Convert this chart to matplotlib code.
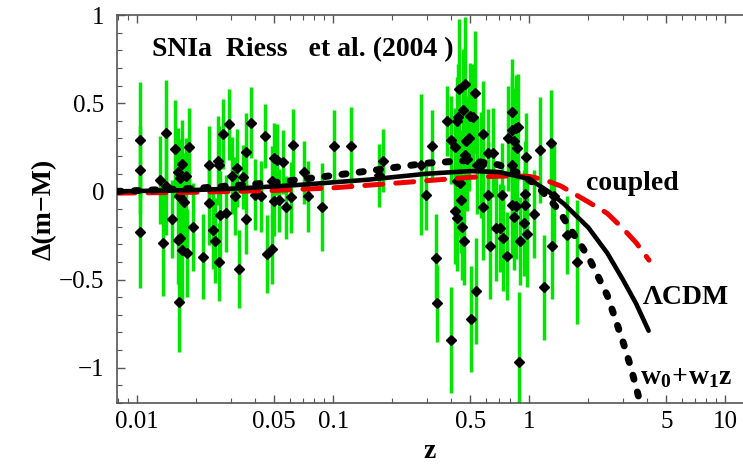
import matplotlib.pyplot as plt
from matplotlib.ticker import FixedLocator, NullFormatter
import numpy as np

plt.rcParams['font.family'] = ['Liberation Serif', 'DejaVu Serif']
plt.rcParams['mathtext.fontset'] = 'custom'
plt.rcParams['mathtext.rm'] = 'Liberation Serif'
plt.rcParams['mathtext.bf'] = 'Liberation Serif:bold'

# SNIa data: redshift, Delta(m-M), error
sn_z = [0.0104, 0.0104, 0.0104, 0.0131, 0.0135, 0.0141, 0.0141, 0.0151, 0.0156, 0.0161,
        0.0165, 0.0170, 0.0178, 0.0163, 0.0168, 0.0174, 0.0162, 0.0166, 0.0169, 0.0179,
        0.0164, 0.0184, 0.0192, 0.0218, 0.0233, 0.0232, 0.0243, 0.0249, 0.0258, 0.0263,
        0.0261, 0.0265, 0.0275, 0.0284, 0.0296, 0.0305, 0.0315, 0.0325, 0.0330, 0.0347,
        0.0358, 0.0358, 0.0380, 0.0400, 0.0430, 0.0448, 0.0459, 0.0488, 0.0488, 0.0498,
        0.0518, 0.0498, 0.0530, 0.0557, 0.0578, 0.0608, 0.0627, 0.0708, 0.0748, 0.0879,
        0.101, 0.1236, 0.18, 0.171, 0.279, 0.299, 0.32, 0.333, 0.339, 0.397,
        0.382, 0.398, 0.416, 0.419, 0.426, 0.430, 0.431, 0.437, 0.457, 0.462,
        0.469, 0.475, 0.443, 0.427, 0.448, 0.455, 0.506, 0.537, 0.527, 0.498,
        0.518, 0.490, 0.470, 0.480, 0.543, 0.565, 0.580, 0.615, 0.652, 0.58,
        0.615, 0.63, 0.68, 0.708, 0.733, 0.73, 0.773, 0.778, 0.813, 0.813,
        0.835, 0.82, 0.869, 0.86, 0.82, 0.84, 0.86, 0.885, 0.895, 0.88,
        0.946, 0.946, 0.957, 0.94, 0.977, 1.055, 1.14, 1.186, 1.29, 1.30,
        1.34, 1.55, 1.76]
sn_dm = [0.29, 0.12, -0.23, 0.063, -0.295, 0.33, 0.03, -0.157, 0.24, 0.108,
         0.076, 0.155, 0.085, -0.028, -0.04, -0.06, -0.275, -0.265, -0.333, -0.35,
         -0.63, 0.25, -0.20, -0.37, 0.148, -0.066, -0.22, -0.28, 0.175, 0.15,
         -0.40, -0.136, 0.325, -0.125, 0.38, 0.089, -0.026, 0.132, -0.44, 0.081,
         0.225, -0.155, 0.39, -0.019, -0.028, 0.313, -0.356, -0.326, 0.057, 0.19,
         0.18, -0.053, -0.051, 0.167, -0.091, -0.034, 0.265, 0.108, -0.028, -0.089,
         0.26, 0.26, 0.174, 0.09, 0.15, -0.021, 0.26, -0.379, -0.635, -0.843,
         0.40, 0.29, 0.25, -0.114, -0.15, 0.40, 0.42, 0.58, 0.46, -0.28,
         0.61, 0.288, 0.047, 0.057, -0.05, -0.20, -0.725, -0.564, 0.56, 0.43,
         0.42, 0.30, 0.208, 0.186, 0.15, 0.15, 0.326, 0.218, 0.22, -0.09,
         -0.02, -0.31, -0.21, -0.21, -0.265, -0.023, -0.365, 0.30, 0.45, 0.35,
         0.284, 0.15, 0.246, 0.36, -0.08, -0.148, -0.085, -0.97, -0.28, 0.364,
         -0.015, -0.08, 0.193, -0.18, -0.243, -0.13, 0.233, -0.545, 0.275, -0.31,
         -0.028, -0.246, -0.40]
sn_err = [0.33, 0.25, 0.32, 0.25, 0.30, 0.30, 0.28, 0.22, 0.28, 0.25,
          0.22, 0.25, 0.22, 0.25, 0.22, 0.28, 0.25, 0.28, 0.30, 0.25,
          0.28, 0.22, 0.25, 0.24, 0.22, 0.24, 0.22, 0.24, 0.25, 0.22,
          0.22, 0.25, 0.20, 0.22, 0.20, 0.22, 0.22, 0.22, 0.22, 0.18,
          0.22, 0.20, 0.20, 0.20, 0.20, 0.18, 0.22, 0.20, 0.20, 0.20,
          0.20, 0.20, 0.18, 0.18, 0.18, 0.20, 0.20, 0.18, 0.20, 0.25,
          0.20, 0.22, 0.18, 0.18, 0.40, 0.20, 0.20, 0.25, 0.22, 0.30,
          0.20, 0.25, 0.22, 0.30, 0.30, 0.25, 0.30, 0.40, 0.35, 0.25,
          0.38, 0.25, 0.30, 0.25, 0.30, 0.30, 0.30, 0.30, 0.35, 0.30,
          0.30, 0.30, 0.30, 0.30, 0.28, 0.30, 0.30, 0.25, 0.25, 0.30,
          0.30, 0.30, 0.30, 0.25, 0.30, 0.30, 0.25, 0.30, 0.30, 0.30,
          0.30, 0.30, 0.30, 0.30, 0.30, 0.30, 0.30, 0.40, 0.25, 0.30,
          0.30, 0.30, 0.25, 0.30, 0.30, 0.25, 0.30, 0.30, 0.30, 0.30,
          0.30, 0.22, 0.35]

# model curves
lcdm_z = [0.0079, 0.02, 0.035, 0.07, 0.15, 0.3, 0.5, 0.7, 1.0, 1.25, 1.5, 2.0, 2.5, 3.0, 3.5, 4.06]
lcdm_dm = [0.0, 0.008, 0.018, 0.038, 0.066, 0.10, 0.115, 0.11, 0.07, 0.0, -0.07, -0.205, -0.35, -0.50, -0.635, -0.79]

w0w1_z = [0.0079, 0.02, 0.05, 0.1, 0.15, 0.3, 0.5, 0.7, 0.9, 1.1, 1.4, 1.7, 2.0, 2.5, 3.0, 3.3, 3.6]
w0w1_dm = [0.0, 0.017, 0.05, 0.09, 0.115, 0.16, 0.176, 0.15, 0.10, 0.03, -0.10, -0.25, -0.37, -0.59, -0.85, -1.0, -1.16]

coupled_z = [0.0079, 0.02, 0.05, 0.1, 0.2, 0.5, 0.8, 1.0, 1.2, 1.45, 2.0, 2.5, 3.0, 3.5, 4.08]
coupled_dm = [-0.01, -0.005, 0.005, 0.02, 0.045, 0.08, 0.088, 0.085, 0.065, 0.03, -0.06, -0.125, -0.21, -0.29, -0.39]

x_ticks = [0.01, 0.05, 0.1, 0.5, 1, 5, 10]
x_ticklabels = ['0.01', '0.05', '0.1', '0.5', '1', '5', '10']
y_ticks = [-1, -0.5, 0, 0.5, 1]
y_ticklabels = ['\u22121', '\u22120.5', '0', '0.5', '1']

W, H = 743, 467
fig = plt.figure(figsize=(W / 100, H / 100), dpi=100)
ax = fig.add_axes([117 / W, 64 / H, (W - 117) / W, 388 / H])

ax.errorbar(sn_z, sn_dm, yerr=sn_err, fmt='D', color='black', ms=5.5,
            ecolor='#00e600', elinewidth=2.5, capsize=0, zorder=2)

ax.plot(coupled_z, coupled_dm, color='#ee0000', lw=3.6, ls=(0, (3.6, 2.6)),
        dash_capstyle='round', zorder=3)
ax.plot(lcdm_z, lcdm_dm, color='black', lw=3.3, solid_capstyle='round', zorder=4)
ax.plot(w0w1_z, w0w1_dm, color='black', lw=5, ls=(0, (0.6, 1.9)),
        dash_capstyle='round', zorder=5)

ax.set_xscale('log')
ax.set_xlim(0.0079, 12.3)
ax.set_ylim(-1.2, 1.0)

ax.xaxis.set_major_locator(FixedLocator(x_ticks))
ax.set_xticklabels(x_ticklabels)
minor_x = [k * 10.0 ** p for p in (-3, -2, -1, 0, 1) for k in range(1, 10)]
ax.xaxis.set_minor_locator(FixedLocator(minor_x))
ax.xaxis.set_minor_formatter(NullFormatter())
ax.yaxis.set_major_locator(FixedLocator(y_ticks))
ax.set_yticklabels(y_ticklabels)
ax.yaxis.set_minor_locator(FixedLocator(np.arange(-1.2, 1.01, 0.1)))

for s in ('left', 'bottom', 'top'):
    ax.spines[s].set_color('#555555')
    ax.spines[s].set_linewidth(1.2)
ax.spines['right'].set_visible(False)
ax.tick_params(which='both', direction='in', colors='#555555', top=True, right=False,
               labelcolor='black', labelsize=18)
ax.tick_params(which='major', length=6, width=1)
ax.tick_params(which='minor', length=3.5, width=0.8)
ax.tick_params(axis='x', pad=6)
ax.tick_params(axis='y', pad=9)

ax.set_xlabel('z', fontsize=20, fontweight='bold', labelpad=4)
ax.set_ylabel('\u0394(m\u2212M)', fontsize=20, fontweight='bold', labelpad=2)

fig.text(152 / W, 1 - 50 / H, 'SNIa  Riess   et al. (2004 )', fontsize=20,
         fontweight='bold', va='center', ha='left')
fig.text(586 / W, 1 - 183 / H, 'coupled', fontsize=20, fontweight='bold',
         va='center', ha='left')
fig.text(643 / W, 1 - 297 / H, '\u039bCDM', fontsize=20, fontweight='bold',
         va='center', ha='left')
fig.text(640 / W, 1 - 378 / H, r'$\mathbf{w_0\!+\!w_1z}$', fontsize=20,
         va='center', ha='left')

fig.savefig('out.png', dpi=100)
